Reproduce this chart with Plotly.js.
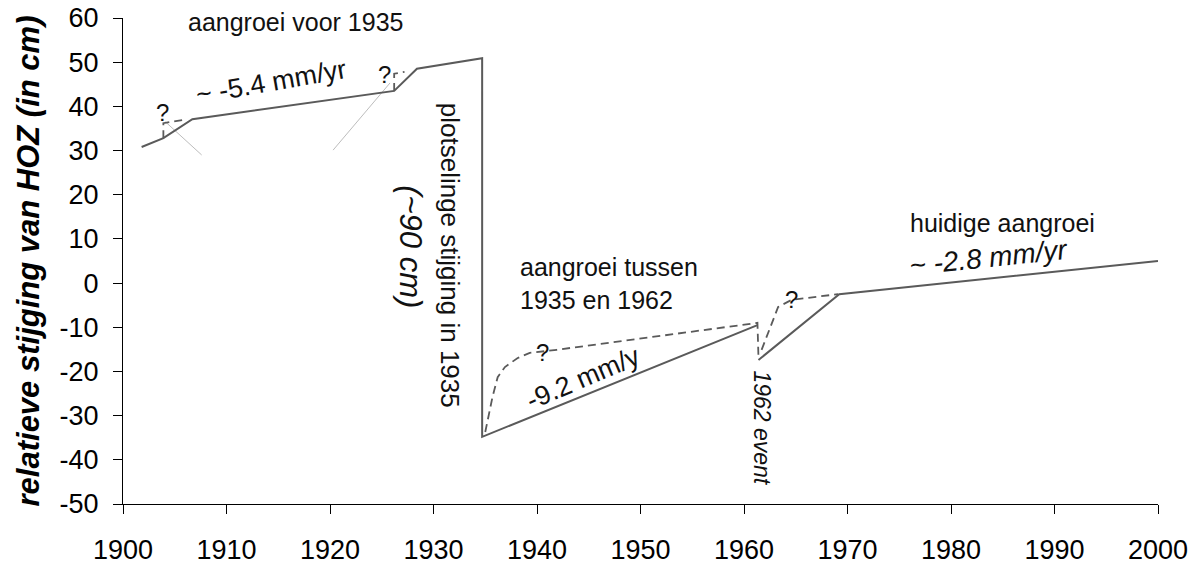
<!DOCTYPE html>
<html>
<head>
<meta charset="utf-8">
<script src="https://cdn.plot.ly/plotly-3.0.1.min.js"></script>
<style>
  html, body { margin: 0; padding: 0; background: #fff; }
  #chart { width: 1199px; height: 569px; }
</style>
</head>
<body>
<div id="chart"></div>
<script>
// Main solid trend (before 1935, jump in 1935, growth 1935-1962)
const mainYears = [1901.8, 1903.9, 1906.7, 1926.2, 1928.4, 1934.7, 1934.7, 1961.3];
const mainLevel = [30.8, 32.8, 37.1, 43.5, 48.5, 50.9, -34.8, -9.5];

// Solid trend after 1962 event
const recentYears = [1961.4, 1969.2, 2000];
const recentLevel = [-17.4, -2.5, 5.0];

// Uncertain (dashed) alternatives
const alt1Years = [1903.9, 1903.9, 1906.0];
const alt1Level = [32.8, 36.2, 37.0];
const alt2Years = [1926.2, 1926.2, 1927.2];
const alt2Level = [43.5, 47.4, 47.8];
const alt3Years = [1935.0, 1935.7, 1936.2, 1936.9, 1938.1, 1939.3, 1941.9, 1961.3, 1961.4];
const alt3Level = [-33.7, -25.8, -21.3, -19.0, -17.0, -15.8, -15.1, -9.0, -17.0];
const alt4Years = [1961.7, 1963.3, 1964.6, 1969.1];
const alt4Level = [-15.1, -5.4, -3.8, -2.5];

// Thin construction lines
const guide1Years = [1904.1, 1907.6];
const guide1Level = [36.5, 29.0];
const guide2Years = [1920.3, 1925.8];
const guide2Level = [30.1, 45.3];

// Axis ticks
const xTicks = [1900, 1910, 1920, 1930, 1940, 1950, 1960, 1970, 1980, 1990, 2000];
const yTicks = [-50, -40, -30, -20, -10, 0, 10, 20, 30, 40, 50, 60];

// Question-mark labels
const questionYears = [1903.8, 1925.3, 1940.5, 1964.6];
const questionLevel = [38.5, 47.1, -15.8, -3.8];

const FONT = '"Liberation Sans", Arial, Helvetica, sans-serif';
const LINE = '#5a5a5a';

const solid = {width: 2, color: LINE};
const dashed = {width: 1.8, color: LINE, dash: '8px,5px'};
const thin = {width: 1, color: '#bdbdbd'};

function tr(x, y, line) {
  return {x: x, y: y, type: 'scatter', mode: 'lines', line: line, hoverinfo: 'skip', showlegend: false};
}

const data = [
  tr(guide1Years, guide1Level, thin),
  tr(guide2Years, guide2Level, thin),
  tr(alt1Years, alt1Level, dashed),
  tr(alt2Years, alt2Level, dashed),
  tr(alt3Years, alt3Level, dashed),
  tr(alt4Years, alt4Level, dashed),
  tr(mainYears, mainLevel, solid),
  tr(recentYears, recentLevel, solid)
];

function ann(text, x, y, size, opts) {
  return Object.assign({
    text: text, x: x, y: y, xref: 'x', yref: 'y', showarrow: false,
    font: {family: FONT, size: size, color: '#111'}
  }, opts || {});
}

const annotations = [
  ann('aangroei voor 1935', 1916.7, 59.1, 25),
  ann('~ -5.4 mm/yr', 1914.3, 45.5, 27, {textangle: -10}),
  ann('plotselinge stijging in 1935', 1931.6, 6.4, 26, {textangle: 90}),
  ann('<i>(~90 cm)</i>', 1927.7, 8.2, 31, {textangle: 90}),
  ann('aangroei tussen<br>1935 en 1962', 1938.2, 0.0, 25, {xanchor: 'left', align: 'left'}),
  ann('-9.2 mm/y', 1944.5, -21.5, 27, {textangle: -23}),
  ann('<i>1962 event</i>', 1961.7, -32.8, 23, {textangle: 90}),
  ann('huidige aangroei', 1985.0, 13.6, 25),
  ann('<i>~ -2.8 mm/yr</i>', 1983.7, 5.7, 28, {textangle: -6})
];
for (let i = 0; i < questionYears.length; i++) {
  annotations.push(ann('?', questionYears[i], questionLevel[i], 24));
}

const layout = {
  width: 1199, height: 569,
  margin: {l: 123, r: 41, t: 18, b: 65},
  paper_bgcolor: '#fff', plot_bgcolor: '#fff',
  showlegend: false,
  font: {family: FONT, color: '#000'},
  xaxis: {
    range: [1900, 2000], tickvals: xTicks, ticktext: xTicks.map(String),
    showgrid: false, zeroline: false, showline: true, linecolor: '#000', linewidth: 1,
    ticks: 'outside', ticklen: 9, tickcolor: '#000', tickwidth: 1,
    tickfont: {family: FONT, size: 27, color: '#000'},
    ticklabelstandoff: 13,
    automargin: false
  },
  yaxis: {
    range: [-50, 60], tickvals: yTicks, ticktext: yTicks.map(String),
    showgrid: false, zeroline: false, showline: true, linecolor: '#000', linewidth: 1,
    ticks: 'outside', ticklen: 9, tickcolor: '#000', tickwidth: 1,
    tickfont: {family: FONT, size: 27, color: '#000'},
    ticklabelstandoff: 9,
    title: {text: 'relatieve stijging van HOZ (in cm)', standoff: 10,
            font: {family: FONT, size: 31, color: '#000', weight: 'bold', style: 'italic'}},
    automargin: 'left'
  },
  annotations: annotations
};

Plotly.newPlot('chart', data, layout, {staticPlot: true, displayModeBar: false});
</script>
</body>
</html>
